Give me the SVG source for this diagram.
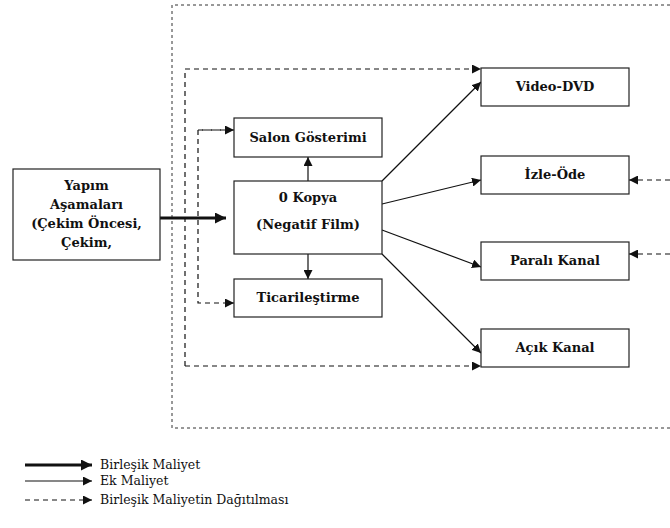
<svg xmlns="http://www.w3.org/2000/svg" width="670" height="528" viewBox="0 0 670 528">
<style>
.box{fill:#fff;stroke:#222;stroke-width:1.2}
.t{font-family:"DejaVu Serif","Liberation Serif",serif;font-weight:bold;font-size:13px;fill:#111;text-anchor:middle}
.lg{font-family:"DejaVu Serif","Liberation Serif",serif;font-size:12.5px;fill:#111}
.thin{stroke:#111;stroke-width:1.2;fill:none}
.thick{stroke:#111;stroke-width:3.2;fill:none}
.dash{stroke:#111;stroke-width:1.2;fill:none;stroke-dasharray:5,4}
.frame{stroke:#333;stroke-width:1;fill:none;stroke-dasharray:3,3}
</style>
<defs>
<marker id="ah" viewBox="0 0 10 10" refX="10" refY="5" markerWidth="9" markerHeight="9" markerUnits="userSpaceOnUse" orient="auto">
<path d="M0,0 L10,5 L0,10 z" fill="#111"/>
</marker>
<marker id="ahb" viewBox="0 0 10 10" refX="10" refY="5" markerWidth="11" markerHeight="11" markerUnits="userSpaceOnUse" orient="auto">
<path d="M0,0 L10,5 L0,10 z" fill="#111"/>
</marker>
</defs>
<path class="frame" d="M670 5 H172 V428 H670"/>
<g id="connectors">
<path class="thick" d="M160 218 H226" marker-end="url(#ahb)"/>
<path class="thin" d="M308 181 V157" marker-end="url(#ah)"/>
<path class="thin" d="M308 254 V279" marker-end="url(#ah)"/>
<path class="thin" d="M382 181 L481 82" marker-end="url(#ah)"/>
<path class="thin" d="M382 204 L481 180" marker-end="url(#ah)"/>
<path class="thin" d="M382 230 L481 267" marker-end="url(#ah)"/>
<path class="thin" d="M382 254 L481 353" marker-end="url(#ah)"/>
<path class="dash" d="M185 366 V69 H481" marker-end="url(#ah)"/>
<path class="dash" d="M185 366 H481" marker-end="url(#ah)"/>
<path class="dash" d="M234 130 H198 V303 H234" marker-end="url(#ah)"/>
<path class="dash" d="M198 130 H234" marker-end="url(#ah)"/>
<path class="dash" d="M670 180 H629" marker-end="url(#ah)"/>
<path class="dash" d="M670 254 H629" marker-end="url(#ah)"/>
</g>
<g id="yapim">
<rect class="box" x="13" y="169" width="147" height="91"/>
<text class="t" x="86.5" y="190">Yapım</text>
<text class="t" x="86.5" y="209">Aşamaları</text>
<text class="t" x="86.5" y="228">(Çekim Öncesi,</text>
<text class="t" x="86.5" y="247">Çekim,</text>
</g>
<g id="salon">
<rect class="box" x="234" y="118" width="148" height="39"/>
<text class="t" x="308" y="142">Salon Gösterimi</text>
</g>
<g id="kopya">
<rect class="box" x="234" y="181" width="148" height="73"/>
<text class="t" x="308" y="202">0 Kopya</text>
<text class="t" x="308" y="229">(Negatif Film)</text>
</g>
<g id="ticari">
<rect class="box" x="234" y="279" width="148" height="38"/>
<text class="t" x="308" y="302">Ticarileştirme</text>
</g>
<g id="video">
<rect class="box" x="481" y="68" width="148" height="38"/>
<text class="t" x="555" y="91">Video-DVD</text>
</g>
<g id="izle">
<rect class="box" x="481" y="156" width="148" height="38"/>
<text class="t" x="555" y="179">İzle-Öde</text>
</g>
<g id="parali">
<rect class="box" x="481" y="242" width="148" height="38"/>
<text class="t" x="555" y="265">Paralı Kanal</text>
</g>
<g id="acik">
<rect class="box" x="481" y="329" width="148" height="38"/>
<text class="t" x="555" y="352">Açık Kanal</text>
</g>
<g id="legend">
<path class="thick" d="M25 465 H92" marker-end="url(#ahb)"/>
<path class="thin" d="M25 481 H92" marker-end="url(#ah)"/>
<path class="dash" d="M25 500 H92" marker-end="url(#ah)"/>
<text class="lg" x="100" y="469">Birleşik Maliyet</text>
<text class="lg" x="100" y="485">Ek Maliyet</text>
<text class="lg" x="100" y="504">Birleşik Maliyetin Dağıtılması</text>
</g>
</svg>
